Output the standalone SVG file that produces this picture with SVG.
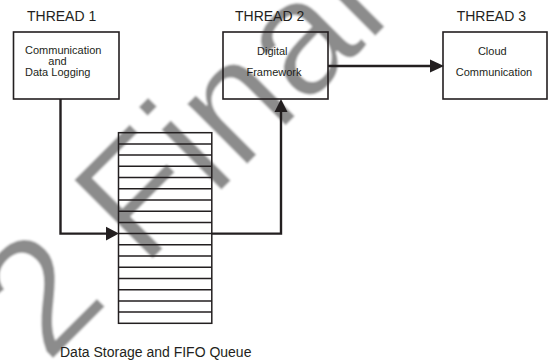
<svg xmlns="http://www.w3.org/2000/svg" width="549" height="363" viewBox="0 0 549 363">
  <defs>
    <style>
      .t { font-family: "Liberation Sans", Arial, Helvetica, sans-serif; fill: #231f20; }
      .title { font-size: 14px; }
      .lbl { font-size: 11px; }
      .box { fill: none; stroke: #231f20; stroke-width: 1.6; }
      .conn { fill: none; stroke: #231f20; stroke-width: 2.4; }
      .head { fill: #231f20; stroke: none; }
      .q { fill: none; stroke: #231f20; stroke-width: 1.5; }
      .wm { font-family: "Liberation Sans", Arial, Helvetica, sans-serif; font-size: 163px; fill: #8c8c8c; stroke: #ffffff; stroke-width: 1.5; }
    </style>
    <filter id="soft" x="-10%" y="-10%" width="120%" height="120%">
      <feGaussianBlur stdDeviation="0.8"/>
    </filter>
  </defs>
  <rect width="549" height="363" fill="#ffffff"/>

  <g id="watermark" filter="url(#soft)">
    <text class="wm" transform="translate(47.2,364.8) rotate(-45)">2 Final</text>
  </g>

  <g id="thread1">
    <text class="t title" x="27" y="20.5">THREAD 1</text>
    <rect class="box" x="13.5" y="32" width="105.5" height="67"/>
    <text class="t lbl" x="25" y="54.3">Communication</text>
    <text class="t lbl" x="48.3" y="64.8">and</text>
    <text class="t lbl" x="25" y="76">Data Logging</text>
  </g>

  <g id="thread2">
    <text class="t title" x="235" y="20.5">THREAD 2</text>
    <rect class="box" x="223" y="32" width="105" height="67"/>
    <text class="t lbl" x="272.3" y="54.5" text-anchor="middle">Digital</text>
    <text class="t lbl" x="274" y="76" text-anchor="middle">Framework</text>
  </g>

  <g id="thread3">
    <text class="t title" x="456.7" y="20.5">THREAD 3</text>
    <rect class="box" x="443" y="32" width="104" height="67"/>
    <text class="t lbl" x="492.3" y="54.5" text-anchor="middle">Cloud</text>
    <text class="t lbl" x="494" y="76" text-anchor="middle">Communication</text>
  </g>

  <g id="queue">
    <rect class="q" x="118.5" y="132.7" width="93.3" height="190.6"/>
    <path class="q" d="M118.5,143.9H211.8 M118.5,155.1H211.8 M118.5,166.3H211.8 M118.5,177.5H211.8 M118.5,188.8H211.8 M118.5,200H211.8 M118.5,211.2H211.8 M118.5,222.4H211.8 M118.5,233.6H211.8 M118.5,244.8H211.8 M118.5,256H211.8 M118.5,267.2H211.8 M118.5,278.4H211.8 M118.5,289.7H211.8 M118.5,300.9H211.8 M118.5,312.1H211.8"/>
    <text class="t title" x="60" y="357">Data Storage and FIFO Queue</text>
  </g>

  <g id="connectors">
    <path class="conn" d="M60.5,99 V233.6 H107"/>
    <polygon class="head" points="106,226.8 119,233.6 106,240.4"/>
    <path class="conn" d="M211.8,233.6 H281 V111"/>
    <polygon class="head" points="274.5,112 281,99 287.5,112"/>
    <path class="conn" d="M328,66 H431"/>
    <polygon class="head" points="430,59.5 444,66 430,72.5"/>
  </g>
</svg>
